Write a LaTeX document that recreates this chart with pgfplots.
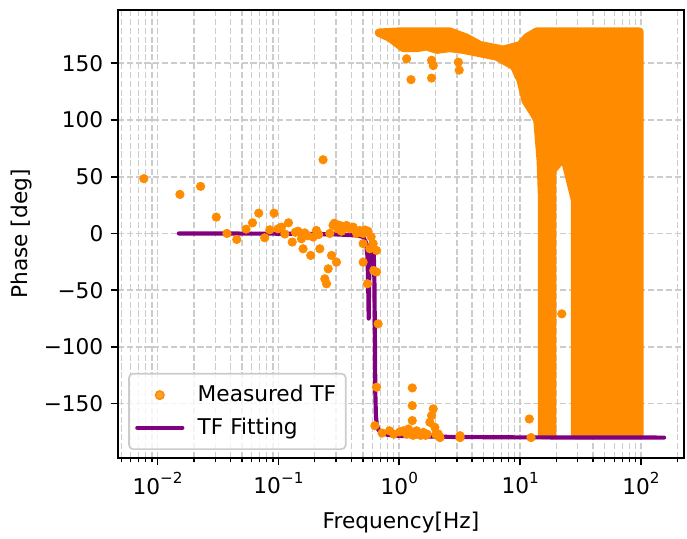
\documentclass[border=0pt]{standalone}
\usepackage{fontspec}
\setmainfont{DejaVu Sans}
\usepackage{pgfplots}
\pgfplotsset{compat=1.18}
\definecolor{dorange}{HTML}{FF8C00}
\definecolor{mpurple}{HTML}{800080}
\definecolor{gridc}{HTML}{CCCCCC}
\newcommand\sups[1]{\raisebox{0.85ex}{\fontsize{7.3}{8}\selectfont #1}}
\pgfplotsset{
  dotlegend/.style={legend image code/.code={\path (0pt,0pt) (26.4pt,0pt);\draw[##1] plot[only marks] coordinates {(10.8pt,0pt)};}},
  linelegend/.style={legend image code/.code={\path (0pt,0pt) (26.4pt,0pt);\draw[##1] (0pt,0pt) -- (21.6pt,0pt);}},
}
\begin{document}
\begin{tikzpicture}
\path[use as bounding box] (-56.6pt,-38.4pt) rectangle (273.1pt,219.8pt);
\begin{axis}[
  at={(0,0)}, anchor=south west,
  scale only axis, width=271.7pt, height=215pt,
  xmode=log, xmin=0.0047, xmax=227, ymin=-198, ymax=197,
  font=\fontsize{10.4}{12.5}\selectfont,
  axis line style={line width=0.8pt},
  tick align=outside, tick pos=left,
  major tick length=3.5pt, minor tick length=2pt,
  every tick/.style={black, line width=0.8pt},
  minor tick style={line width=0.6pt},
  xtick={0.01,0.1,1,10,100},
  xticklabels={10\sups{−2},10\sups{−1},10\sups{0},10\sups{1},10\sups{2}},
  minor xtick={0.005,0.006,0.007,0.008,0.009,0.02,0.03,0.04,0.05,0.06,0.07,0.08,0.09,0.2,0.3,0.4,0.5,0.6,0.7,0.8,0.9,2,3,4,5,6,7,8,9,20,30,40,50,60,70,80,90,200},
  ytick={-150,-100,-50,0,50,100,150},
  yticklabels={−150,−100,−50,0,50,100,150},
  xmajorgrids, xminorgrids, ymajorgrids,
  major grid style={gridc, line width=0.8pt, dash pattern=on 2.96pt off 1.28pt},
  minor grid style={gridc, line width=0.6pt, dash pattern=on 2.96pt off 1.28pt},
  xlabel={Frequency[Hz]}, ylabel={Phase [deg]},
  xlabel style={at={(axis description cs:0.5,-0.1572)}, anchor=base},
  ylabel style={at={(axis description cs:-0.1597,0.5)}, anchor=base},
  legend style={at={(0.018,0.018)}, anchor=south west, draw=gridc, line width=0.8pt,
    rounded corners=2pt, fill=white, fill opacity=0.8, text opacity=1,
    font=\fontsize{10.4}{12.5}\selectfont, inner xsep=3pt, inner ysep=4pt,
    nodes={inner sep=1.6pt}, row sep=3pt},
  legend cell align=left,
]
% dense measured regions (outline of overlapping markers)
\addplot[forget plot, draw=dorange, fill=dorange, line width=4pt, line join=round, line cap=round] coordinates {
(0.678,177) (1.0,178) (2.62,178) (3.6,172.5) (4.66,166) (7.27,162) (10,166) (11.4,173) (13.7,178) (97,178)
(97,-178) (28.5,-178) (28.5,29) (23.1,68) (18.4,55.6) (18.4,-178) (15.2,-178) (15.2,30) (14.8,64) (13.9,99.7)
(13.0,105.6) (11.1,117) (10.1,135) (8.9,147.5) (6.4,156) (4.66,159) (3.38,162) (2.62,163.5) (2.04,162) (1.68,165)
(1.39,163.5) (1.08,163.5) (0.836,172.5) (0.678,177)};
\addplot[only marks, mark=*, mark size=2pt, color=dorange, mark options={draw=dorange, fill=dorange}, dotlegend]
coordinates {
(0.0077,48.3) (0.0153,34.4) (0.0227,41.5) (0.0306,14.4) (0.0375,0) (0.0452,-5.3) (0.054,3.8) (0.061,9.4)
(0.0687,17.9) (0.077,-3.8) (0.0848,3.2) (0.092,17.9) (0.0993,4.1) (0.106,5.6) (0.113,-0.5) (0.121,9.4)
(0.13,-7.6) (0.138,1) (0.145,2) (0.155,-4.7) (0.16,-13.5) (0.165,0.5) (0.175,-2) (0.185,-19.4) (0.194,-3.2)
(0.206,2.6) (0.215,-1) (0.22,-13.5) (0.234,65) (0.242,-40) (0.25,-44.4) (0.258,-31.2) (0.266,0) (0.275,-19.4)
(0.283,7.1) (0.29,9) (0.302,-25.3) (0.302,8) (0.31,4) (0.322,7.1) (0.333,2) (0.343,5.6) (0.366,7) (0.39,4.1)
(0.415,5.6) (0.443,0) (0.47,2.6) (0.502,0) (0.502,-9) (0.502,-25.3) (0.52,3) (0.545,-44.4) (0.55,2) (0.57,-13.5)
(0.585,-3) (0.608,-9) (0.615,-32.7) (0.648,-15) (0.648,-34) (0.668,-79.7) (0.648,-135.6) (0.628,-169.5)
(0.72,-176) (0.83,-174) (0.9,-177) (1.01,-175) (1.08,-174) (1.15,-177) (1.19,-172.4) (1.25,-177) (1.28,-136.2)
(1.28,-151.8) (1.28,-165) (1.30,-178) (1.39,-174) (1.45,-177) (1.5,-178) (1.58,-175.4) (1.65,-178) (1.7,-177)
(1.79,-166.5) (1.85,-160.6) (1.91,-154.7) (1.97,-171) (2.0,-177) (2.10,-176.8) (2.17,-180) (3.18,-178.3)
(3.18,-180) (11.9,-163.6) (12.3,-180) (22.1,-70.9) (1.15,154) (1.25,135.6) (1.85,137) (1.85,152.7) (1.91,148)
(3.08,151) (3.13,144)};
\addlegendentry{Measured TF}
\addplot[mpurple, line width=2pt, line join=round, line cap=round, linelegend]
coordinates {
(0.015,0) (0.1,-0.2) (0.3,-0.8) (0.45,-1.8) (0.5,-3) (0.53,-8) (0.545,-20) (0.553,-45) (0.558,-75) (0.562,-45)
(0.568,-20) (0.578,-10) (0.59,-7) (0.605,-9) (0.615,-18) (0.622,-40) (0.628,-90) (0.633,-140) (0.64,-160)
(0.65,-168) (0.67,-173) (0.72,-176) (0.8,-177.5) (1,-178.5) (3,-179.5) (10,-179.8) (155,-180)};
\addlegendentry{TF Fitting}
\end{axis}
\end{tikzpicture}
\end{document}
